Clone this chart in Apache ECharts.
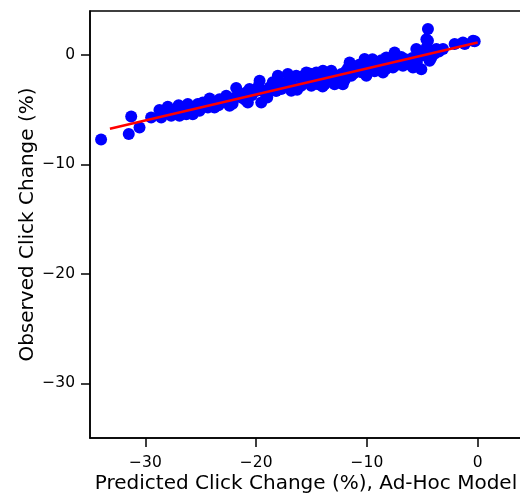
<!DOCTYPE html>
<html>
<head>
<meta charset="utf-8">
<script src="https://cdn.jsdelivr.net/npm/echarts@6/dist/echarts.min.js"></script>
<style>html,body{margin:0;padding:0;background:#fff;}#c{width:520px;height:494px;}</style>
</head>
<body>
<div id="c"></div>
<script>
const predicted = [-34.0,-31.5,-31.28,-30.53,-29.48,-28.73,-28.57,-27.98,-27.67,-27.37,-26.92,-27.1,-26.17,-26.31,-25.72,-25.27,-25.11,-24.81,-24.36,-24.06,-23.76,-23.31,-22.7,-22.4,-22.13,-21.8,-21.35,-20.9,-20.6,-20.75,-19.69,-19.54,-18.79,-18.04,-17.73,-17.14,-16.83,-16.38,-15.93,-15.47,-15.02,-14.57,-13.97,-13.82,-13.22,-12.92,-12.31,-12.17,-11.56,-11.41,-11.11,-10.21,-10.36,-10.05,-9.15,-8.55,-8.25,-7.5,-7.65,-7.05,-6.59,-6.75,-5.84,-5.54,-5.09,-5.09,-4.63,-4.49,-4.49,-4.34,-4.34,-4.04,-3.73,-3.13,-2.08,-1.33,-1.17,-0.42,-0.27,
-28.4,-27.8,-26.6,-26.0,-25.5,-24.6,-23.9,-23.0,-22.2,-21.6,-20.4,-20.0,-19.2,-18.5,-18.2,-17.5,-17.0,-16.6,-16.0,-15.5,-15.0,-14.4,-14.2,-13.6,-13.0,-12.6,-11.9,-11.2,-10.7,-9.8,-9.5,-8.9,-8.7,-8.0,-7.3,-6.9,-6.3,-5.9,-5.5,-4.9,-3.9,-4.2,
-27.0,-25.9,-24.2,-23.4,-21.0,-19.8,-19.0,-18.0,-16.3,-15.2,-14.0,-13.4,-12.0,-11.7,-10.5,-9.3,-8.3,-7.8,-6.1,-5.3,-4.6,-3.5];
const observed = [-7.74,-7.24,-5.63,-6.64,-5.73,-5.05,-5.73,-4.75,-5.57,-5.05,-5.57,-5.39,-4.5,-5.42,-5.42,-4.5,-5.11,-4.36,-4.81,-4.2,-4.81,-4.05,-3.74,-4.66,-4.47,-3.04,-3.9,-3.44,-3.13,-4.36,-2.37,-4.36,-2.99,-1.92,-3.13,-1.76,-3.29,-1.92,-2.83,-1.62,-2.83,-1.62,-1.46,-2.68,-1.46,-2.68,-1.76,-2.68,-0.7,-1.92,-1.31,-0.39,-1.31,-1.92,-0.7,-1.62,-0.25,0.21,-1.16,-0.55,-0.39,-1.0,-1.16,0.52,-0.09,-1.31,1.43,2.35,1.28,0.21,-0.55,0.21,0.52,0.52,0.98,1.12,0.98,1.28,1.23,
-5.2,-5.0,-4.9,-4.8,-4.9,-4.6,-4.4,-4.2,-4.0,-3.7,-3.7,-3.3,-3.5,-2.5,-3.3,-2.6,-2.4,-2.9,-2.0,-2.4,-2.2,-2.7,-2.0,-2.2,-2.0,-2.3,-1.5,-1.7,-0.9,-1.2,-0.4,-1.1,-0.5,-0.8,-0.9,-0.2,-0.6,-0.3,-0.7,0.3,0.1,-0.3,
-4.6,-5.3,-4.0,-4.6,-4.1,-2.9,-3.9,-2.9,-3.2,-1.7,-2.9,-1.7,-2.3,-1.2,-1.6,-1.5,-1.3,-0.4,-0.9,0.1,0.7,0.3];
const fitX = [-33.2, 0.0];
const fitY = [-6.75, 1.12];
const xTicks = [-30, -20, -10, 0];
const yTicks = [0, -10, -20, -30];

const pts = predicted.map((x, i) => [x, observed[i]]);
const fit = fitX.map((x, i) => [x, fitY[i]]);
const fmt = v => String(v).replace('-', '\u2212');
const font = 'DejaVu Sans';

const chart = echarts.init(document.getElementById('c'), null, {renderer: 'canvas'});
chart.setOption({
  animation: false,
  backgroundColor: '#fff',
  grid: {left: 90, top: 11, width: 432, height: 427, outerBoundsMode: 'none', containLabel: false, show: true, borderColor: '#000', borderWidth: 1.5, backgroundColor: 'transparent'},
  xAxis: {
    type: 'value', min: -35, max: 4,
    name: 'Predicted Click Change (%), Ad-Hoc Model', nameLocation: 'middle', nameGap: 36, nameMoveOverlap: false,
    nameTextStyle: {fontFamily: font, fontSize: 20, color: '#000'},
    axisLine: {show: true, onZero: false, lineStyle: {color: '#000', width: 1.5}},
    axisTick: {show: true, length: 9, lineStyle: {color: '#000', width: 1.5}, customValues: xTicks},
    axisLabel: {fontFamily: font, fontSize: 15.5, color: '#000', margin: 17, customValues: xTicks, formatter: fmt},
    splitLine: {show: false}
  },
  yAxis: {
    type: 'value', min: -35, max: 4,
    name: 'Observed Click Change (%)', nameLocation: 'middle', nameGap: 52, nameMoveOverlap: false,
    nameTextStyle: {fontFamily: font, fontSize: 20, color: '#000'},
    axisLine: {show: true, onZero: false, lineStyle: {color: '#000', width: 1.5}},
    axisTick: {show: true, length: 9, lineStyle: {color: '#000', width: 1.5}, customValues: yTicks},
    axisLabel: {fontFamily: font, fontSize: 15.5, color: '#000', margin: 15, customValues: yTicks, formatter: fmt},
    splitLine: {show: false}
  },
  series: [
    {type: 'scatter', data: pts, symbolSize: 12, itemStyle: {color: '#0000ff', opacity: 1}, z: 2},
    {type: 'line', data: fit, showSymbol: false, symbol: 'none', lineStyle: {color: '#ff0000', width: 2.5}, z: 3}
  ]
});
</script>
</body>
</html>
